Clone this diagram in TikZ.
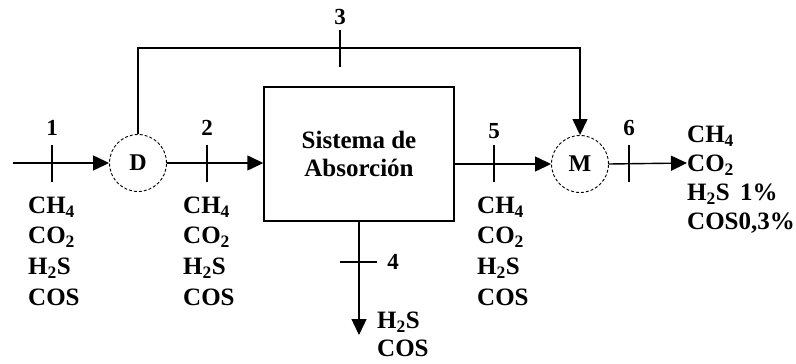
\documentclass[tikz,border=0pt]{standalone}
\usepackage{fontspec}
\setmainfont{Liberation Serif}
\usetikzlibrary{arrows.meta}
\begin{document}
\begin{tikzpicture}[x=1pt,y=-1pt,
  line/.style={line width=1.4pt},
  arr/.style={line, -{Triangle[length=16pt,width=15pt]}},
  tick/.style={line width=1.4pt},
  unit/.style={circle, draw, densely dashed, line width=0.9pt, minimum size=57pt, inner sep=0pt, font=\bfseries\fontsize{24}{26}\selectfont},
  num/.style={inner sep=0pt, font=\bfseries\fontsize{23}{25}\selectfont},
  chem/.style={anchor=west, inner sep=0pt, text height=17pt, text depth=0pt, font=\bfseries\fontsize{25}{28}\selectfont}
]
\useasboundingbox (0,0) rectangle (796,364);
% units
\node[unit] (D) at (138,163) {D};
\node[unit] (M) at (580,164) {M};
\node[draw, line width=1.4pt, minimum width=190pt, minimum height=134pt, inner sep=0pt, align=center,
  font=\bfseries\fontsize{25}{28}\selectfont] (box) at (359,154) {Sistema de\\Absorción};
\coordinate (in) at (13,163);
\coordinate (out6) at (687,163);
\coordinate (out4) at (359,335);
\coordinate (top) at (360,48);
% connectors
\draw[arr] (in) -- (D.west);
\draw[arr] (D.east) -- (D -| box.west);
\draw[arr] (D.north) |- (top) -| (M.north);
\draw[arr] (M -| box.east) -- (M.west);
\draw[arr] (M.east) -- (out6);
\draw[arr] (box.south) -- (out4);
% ticks
\draw[tick] (52,145) -- (52,182);
\draw[tick] (207,145) -- (207,182);
\draw[tick] (340,30) -- (340,67);
\draw[tick] (494,145) -- (494,182);
\draw[tick] (629,145) -- (629,182);
\draw[tick] (340,262) -- (377,262);
% stream numbers
\node[num] (n1) at (52,128) {1};
\node[num] (n2) at (207,128) {2};
\node[num] (n3) at (340,17) {3};
\node[num] (n4) at (393,262) {4};
\node[num] (n5) at (494,131) {5};
\node[num] (n6) at (629,128) {6};
% compositions
\node[chem] (a1) at (28,205) {CH\textsubscript{4}};
\node[chem] (a2) at (28,235) {CO\textsubscript{2}};
\node[chem] (a3) at (28,266) {H\textsubscript{2}S};
\node[chem] (a4) at (28,297) {COS};
\node[chem] (b1) at (183,205) {CH\textsubscript{4}};
\node[chem] (b2) at (183,235) {CO\textsubscript{2}};
\node[chem] (b3) at (183,266) {H\textsubscript{2}S};
\node[chem] (b4) at (183,297) {COS};
\node[chem] (e1) at (477,205) {CH\textsubscript{4}};
\node[chem] (e2) at (477,235) {CO\textsubscript{2}};
\node[chem] (e3) at (477,266) {H\textsubscript{2}S};
\node[chem] (e4) at (477,297) {COS};
\node[chem] (f1) at (687,134) {CH\textsubscript{4}};
\node[chem] (f2) at (687,163) {CO\textsubscript{2}};
\node[chem] (f3) at (687,192) {H\textsubscript{2}S\, 1\%};
\node[chem] (f4) at (687,221) {COS0,3\%};
\node[chem] (g1) at (377,320) {H\textsubscript{2}S};
\node[chem] (g2) at (377,348) {COS};
\end{tikzpicture}
\end{document}
